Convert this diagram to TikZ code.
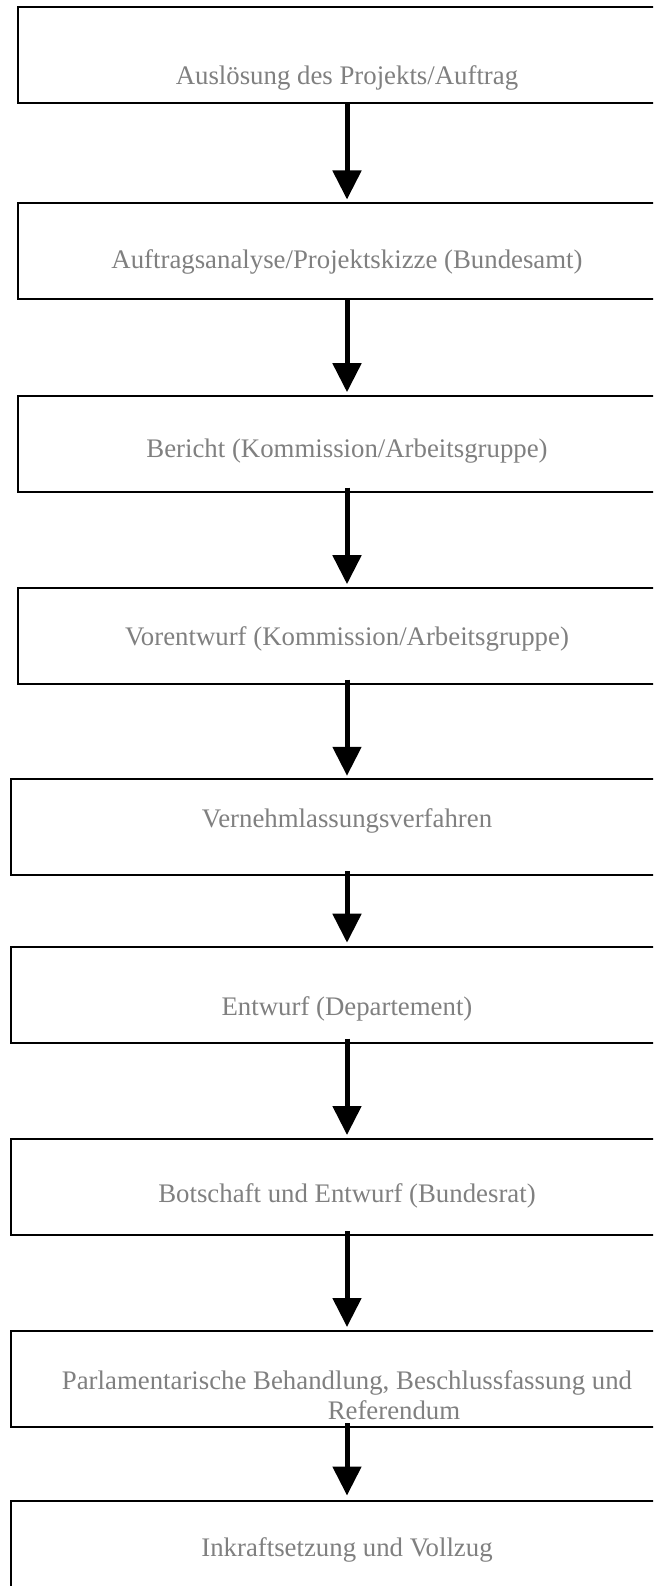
\documentclass[tikz,border=0pt]{standalone}
\usepackage{fontspec}
\setmainfont{Liberation Serif}
\usetikzlibrary{arrows.meta}
\definecolor{txtgray}{RGB}{128,128,128}
\tikzset{
  boxA/.style={draw=black, line width=2pt, inner sep=0pt, outer sep=0pt,
    minimum width=658.6pt, minimum height=96pt, anchor=north west},
  boxB/.style={boxA, minimum width=673pt},
  lbl/.style={text=txtgray, font=\fontsize{26.8}{30}\selectfont, anchor=base, inner sep=0pt},
  arr/.style={line width=5pt, -{Triangle[width=28pt,length=29pt]}}
}
\begin{document}
\begin{tikzpicture}[x=1pt,y=-1pt]
\clip (0,0) rectangle (653,1586);
\fill[white] (0,0) rectangle (653,1586);
\node[boxA] (b1) at (17.7,6.7) {};
\node[boxA] (b2) at (17.7,203) {};
\node[boxA] (b3) at (17.7,395.7) {};
\node[boxA] (b4) at (17.7,587.7) {};
\node[boxB] (b5) at (10.5,779.3) {};
\node[boxB] (b6) at (10.5,946.7) {};
\node[boxB] (b7) at (10.5,1139) {};
\node[boxB] (b8) at (10.5,1331) {};
\node[boxB] (b9) at (10.5,1500.5) {};
\node[lbl] (t1) at (347,85) {Auslösung des Projekts/Auftrag};
\node[lbl] (t2) at (347,269) {Auftragsanalyse/Projektskizze (Bundesamt)};
\node[lbl] (t3) at (347,457) {Bericht (Kommission/Arbeitsgruppe)};
\node[lbl] (t4) at (347,645) {Vorentwurf (Kommission/Arbeitsgruppe)};
\node[lbl] (t5) at (347,827) {Vernehmlassungsverfahren};
\node[lbl] (t6) at (347,1015) {Entwurf (Departement)};
\node[lbl] (t7) at (347,1202) {Botschaft und Entwurf (Bundesrat)};
\node[lbl] (t8a) at (347,1389) {Parlamentarische Behandlung, Beschlussfassung und};
\node[lbl] (t8b) at (394,1419) {Referendum};
\node[lbl] (t9) at (347,1556) {Inkraftsetzung und Vollzug};
\coordinate (ax) at (347,0);
\draw[arr] (b1.south -| ax) -- ([yshift=3.5pt]b2.north -| ax);
\draw[arr] (b2.south -| ax) -- ([yshift=3.5pt]b3.north -| ax);
\draw[arr] ([yshift=4pt]b3.south -| ax) -- ([yshift=3.5pt]b4.north -| ax);
\draw[arr] ([yshift=4pt]b4.south -| ax) -- ([yshift=3.5pt]b5.north -| ax);
\draw[arr] ([yshift=4pt]b5.south -| ax) -- ([yshift=4pt]b6.north -| ax);
\draw[arr] ([yshift=4pt]b6.south -| ax) -- ([yshift=4pt]b7.north -| ax);
\draw[arr] ([yshift=4pt]b7.south -| ax) -- ([yshift=4pt]b8.north -| ax);
\draw[arr] ([yshift=4pt]b8.south -| ax) -- ([yshift=5pt]b9.north -| ax);
\end{tikzpicture}
\end{document}
